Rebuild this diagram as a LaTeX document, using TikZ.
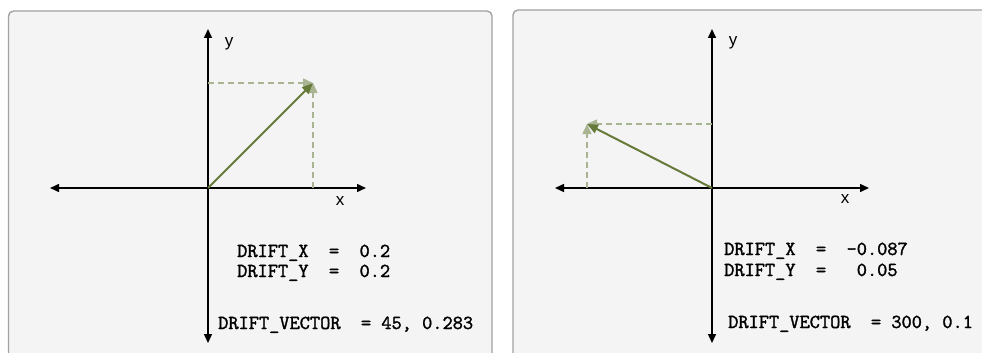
\documentclass[tikz,border=0pt]{standalone}
\usepackage{fontspec}
\setmainfont{Liberation Sans}
\newfontfamily\codefont{Latin Modern Mono}[FakeBold=1.6]
\usetikzlibrary{arrows.meta}
\definecolor{panelfill}{HTML}{F4F4F4}
\definecolor{panelborder}{HTML}{A2A2A2}
\definecolor{vecgreen}{HTML}{667A3A}
\definecolor{dashgreen}{HTML}{A9B493}
\tikzset{
  panel/.style={draw=panelborder, line width=1.4pt, fill=panelfill, rounded corners=5pt},
  axis/.style={line width=1.5pt, black, {Triangle[length=9pt,width=8pt]}-{Triangle[length=9pt,width=8pt]}},
  vec/.style={line width=2pt, vecgreen, -{Triangle[length=11pt,width=9pt]}},
  comp/.style={line width=1.5pt, dashgreen, dash pattern=on 6pt off 4pt, -{Triangle[length=10pt,width=9pt]}},
  axlabel/.style={font=\fontsize{17}{19}\selectfont, inner sep=0pt},
  code/.style={font=\codefont\fontsize{19.8}{22}\selectfont, inner sep=0pt, anchor=base west}
}
\begin{document}
\begin{tikzpicture}[x=1pt,y=-1pt]
\useasboundingbox (0,0) rectangle (982,353);
\fill[white] (0,0) rectangle (982,353);
\begin{scope}
\clip (0,0) rectangle (982,353);
% panels
\draw[panel] (8.5,11) rectangle (492,380);
\draw[panel] (513,10) rectangle (1010,380);

% left panel
\coordinate (Lo) at (208,188);
\coordinate (Ltop) at (208,29);
\coordinate (Lbot) at (208,343);
\coordinate (Lleft) at (50,188);
\coordinate (Lright) at (366,188);
\coordinate (Ltip) at (313,83);
\coordinate (Lyp) at (208,83);
\coordinate (Lxp) at (313,188);
\draw[axis] (Lleft) -- (Lright);
\draw[axis] (Lbot) -- (Ltop);
\draw[comp] (Lyp) -- (Ltip);
\draw[comp] (Lxp) -- (Ltip);
\draw[vec] (Lo) -- (Ltip);
\node[axlabel] (Ly) at (229,44) {y};
\node[axlabel] (Lx) at (340,201) {x};
\node[code] (Ldx) at (237,257) {DRIFT\_X\ \ =\ \ 0.2};
\node[code] (Ldy) at (237,277) {DRIFT\_Y\ \ =\ \ 0.2};
\node[code] (Ldv) at (218,329) {DRIFT\_VECTOR\ \ =\ 45,\ 0.283};

% right panel
\coordinate (Ro) at (712,188);
\coordinate (Rtop) at (712,29);
\coordinate (Rbot) at (712,343);
\coordinate (Rleft) at (555,188);
\coordinate (Rright) at (869,188);
\coordinate (Rtip) at (587,124);
\coordinate (Ryp) at (712,124);
\coordinate (Rxp) at (587,188);
\draw[axis] (Rleft) -- (Rright);
\draw[axis] (Rbot) -- (Rtop);
\draw[comp] (Ryp) -- (Rtip);
\draw[comp] (Rxp) -- (Rtip);
\draw[vec] (Ro) -- (Rtip);
\node[axlabel] (Ry) at (733,43) {y};
\node[axlabel] (Rx) at (845,199) {x};
\node[code] (Rdx) at (724,255) {DRIFT\_X\ \ =\ \ -0.087};
\node[code] (Rdy) at (724,276) {DRIFT\_Y\ \ =\ \ \ 0.05};
\node[code] (Rdv) at (728,328) {DRIFT\_VECTOR\ \ =\ 300,\ 0.1};
\end{scope}
\end{tikzpicture}
\end{document}
